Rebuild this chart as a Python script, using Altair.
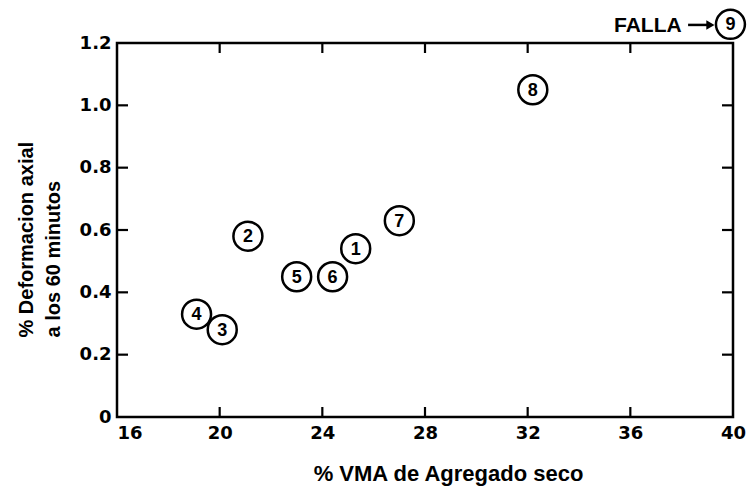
import altair as alt
import pandas as pd

# ---- data ----
labels = ["1", "2", "3", "4", "5", "6", "7", "8", "9"]
vma = [25.3, 21.1, 20.1, 19.1, 23.0, 24.4, 27.0, 32.2, 39.9]
deform = [0.54, 0.58, 0.28, 0.33, 0.45, 0.45, 0.63, 1.05, 1.26]

x_tick_values = [20, 24, 28, 32, 36]
y_tick_values = [0.2, 0.4, 0.6, 0.8, 1.0]
x_label_values = [16, 20, 24, 28, 32, 36, 40]
y_label_values = [0, 0.2, 0.4, 0.6, 0.8, 1.0, 1.2]

note_text = ["FALLA"]
note_x = [38.0]
note_y = [1.258]
arrow_x = [38.25]
arrow_x2 = [39.05]
arrow_head_x = [39.12]
arrow_y = [1.258]

W, H = 616, 374

df = pd.DataFrame({"n": labels, "vma": vma, "def": deform})
xs = alt.Scale(domain=[16, 40], nice=False, zero=False)
ys = alt.Scale(domain=[0, 1.2], nice=False)

xaxis = alt.Axis(
    values=x_label_values, ticks=False, domain=False, grid=False,
    labelFont="DejaVu Sans", labelFontWeight="bold", labelFontSize=18,
    labelColor="black", labelPadding=7, labelFlush=False,
    labelAlign={"condition": {"test": "datum.value == 16", "value": "left"},
                "value": "center"},
    title="% VMA de Agregado seco", titleFont="Liberation Sans",
    titleFontSize=22, titleFontWeight="bold", titleColor="black",
    titleX=331, titleY=63, titleAlign="center", titleBaseline="alphabetic",
)
yaxis = alt.Axis(
    values=y_label_values, ticks=False, domain=False, grid=False,
    labelExpr="datum.value == 0 ? '0' : format(datum.value, '.1f')",
    labelFont="DejaVu Sans", labelFontWeight="bold", labelFontSize=18,
    labelColor="black", labelPadding=6,
    title=["% Deformacion axial", "a los 60 minutos"],
    titleFont="Liberation Sans", titleFontSize=20, titleFontWeight="bold",
    titleColor="black", titleAngle=270, titleAlign="left",
    titleBaseline="alphabetic", titleX=-85, titleY=294, titleLineHeight=27,
)

base = alt.Chart(df).encode(
    x=alt.X("vma:Q", scale=xs, axis=xaxis),
    y=alt.Y("def:Q", scale=ys, axis=yaxis),
)

circles = base.mark_circle(size=840, color="white", stroke="black",
                           strokeWidth=2.5, opacity=1)
nums = base.mark_text(font="Liberation Sans", fontWeight="bold", fontSize=18,
                      color="black", baseline="middle", dy=1).encode(text="n:N")

xt = pd.DataFrame({"vma": x_tick_values})
yt = pd.DataFrame({"def": y_tick_values})
rule = dict(color="black", strokeWidth=2.2)
bottom_ticks = alt.Chart(xt).mark_rule(**rule).encode(
    x=alt.X("vma:Q", scale=xs, axis=xaxis), y=alt.value(H), y2=alt.value(H - 10))
top_ticks = alt.Chart(xt).mark_rule(**rule).encode(
    x=alt.X("vma:Q", scale=xs, axis=xaxis), y=alt.value(0), y2=alt.value(10))
left_ticks = alt.Chart(yt).mark_rule(**rule).encode(
    y=alt.Y("def:Q", scale=ys, axis=yaxis), x=alt.value(0), x2=alt.value(11))
right_ticks = alt.Chart(yt).mark_rule(**rule).encode(
    y=alt.Y("def:Q", scale=ys, axis=yaxis), x=alt.value(W), x2=alt.value(W - 11))

note_df = pd.DataFrame({"vma": note_x, "def": note_y, "t": note_text})
note = alt.Chart(note_df).mark_text(
    font="Liberation Sans", fontWeight="bold", fontSize=21, color="black",
    align="right", baseline="middle", dy=1,
).encode(x=alt.X("vma:Q", scale=xs, axis=xaxis),
         y=alt.Y("def:Q", scale=ys, axis=yaxis), text="t:N")

arrow_df = pd.DataFrame({"vma": arrow_x, "x2": arrow_x2, "def": arrow_y,
                         "hx": arrow_head_x})
arrow_line = alt.Chart(arrow_df).mark_rule(color="black", strokeWidth=2.5).encode(
    x=alt.X("vma:Q", scale=xs, axis=xaxis), x2="x2:Q",
    y=alt.Y("def:Q", scale=ys, axis=yaxis))
arrow_head = alt.Chart(arrow_df).mark_point(
    shape="triangle-right", filled=True, color="black", size=90, opacity=1,
).encode(x=alt.X("hx:Q", scale=xs, axis=xaxis),
         y=alt.Y("def:Q", scale=ys, axis=yaxis))

chart = alt.layer(
    bottom_ticks, top_ticks, left_ticks, right_ticks,
    circles, nums, note, arrow_line, arrow_head,
).properties(
    width=W, height=H,
    autosize=alt.AutoSizeParams(type="none"),
    padding={"left": 117, "top": 43, "right": 15, "bottom": 69},
    background="white",
).configure_view(stroke="black", strokeWidth=2.5)

chart.save("out.html", embed_options={"renderer": "svg", "actions": False})
